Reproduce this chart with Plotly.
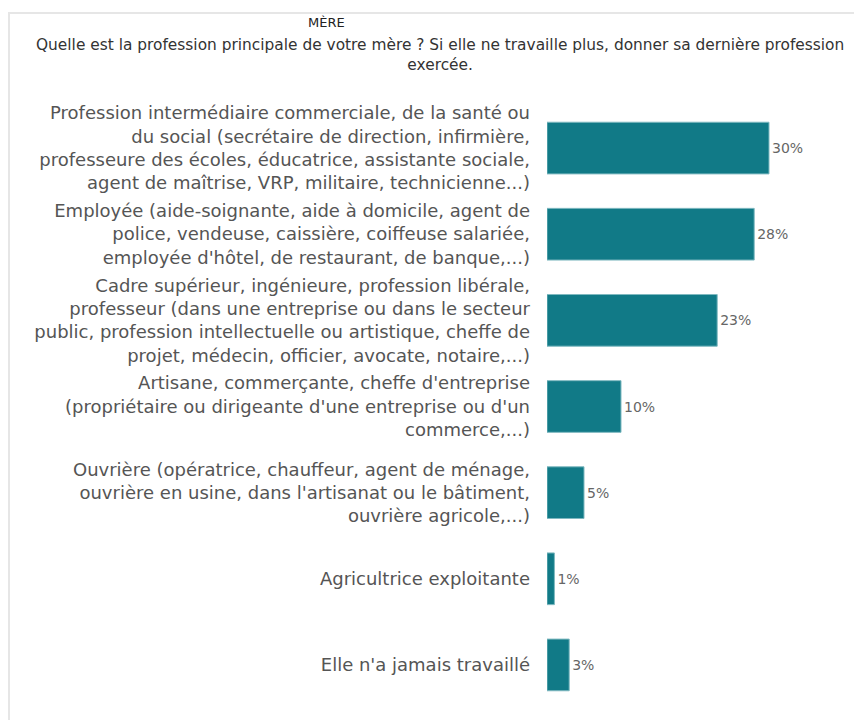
import plotly.graph_objects as go

categories = [
    "Profession intermédiaire commerciale, de la santé ou<br>du social (secrétaire de direction, infirmière,<br>professeure des écoles, éducatrice, assistante sociale,<br>agent de maîtrise, VRP, militaire, technicienne...)",
    "Employée (aide-soignante, aide à domicile, agent de<br>police, vendeuse, caissière, coiffeuse salariée,<br>employée d'hôtel, de restaurant, de banque,...)",
    "Cadre supérieur, ingénieure, profession libérale,<br>professeur (dans une entreprise ou dans le secteur<br>public, profession intellectuelle ou artistique, cheffe de<br>projet, médecin, officier, avocate, notaire,...)",
    "Artisane, commerçante, cheffe d'entreprise<br>(propriétaire ou dirigeante d'une entreprise ou d'un<br>commerce,...)",
    "Ouvrière (opératrice, chauffeur, agent de ménage,<br>ouvrière en usine, dans l'artisanat ou le bâtiment,<br>ouvrière agricole,...)",
    "Agricultrice exploitante",
    "Elle n'a jamais travaillé",
]
values = [30, 28, 23, 10, 5, 1, 3]
value_labels = [f"{v}%" for v in values]

OFF = 8  # page body margin
W, H = 862, 720
# plot area in page pixels: left 547, top 105, bottom 708
L = 547 - OFF
T = 105 - OFF
B = H - (708 - OFF)
R = 0
pw = W - L - R
ph = H - T - B

def px_x(x):  # page px -> paper
    return (x - OFF - L) / pw

def px_y(y):
    return (H - B - (y - OFF)) / ph

fig = go.Figure(go.Bar(
    x=values, y=categories, orientation="h",
    marker=dict(color="#117a87", line=dict(color="#7fb9c0", width=1)),
    width=0.6,
    text=value_labels, textposition="outside",
    textfont=dict(family="DejaVu Sans", size=14, color="#666666"),
    cliponaxis=False,
))

fig.update_layout(
    width=W, height=H,
    margin=dict(l=L, r=R, t=T, b=B),
    paper_bgcolor="white", plot_bgcolor="white",
    showlegend=False,
    xaxis=dict(range=[0, pw / 7.4], visible=False, showgrid=False, zeroline=False),
    yaxis=dict(autorange="reversed", showgrid=False, zeroline=False, showline=False,
               ticks="", ticklabelstandoff=16,
               tickfont=dict(family="DejaVu Sans", size=18, color="#555555")),
    shapes=[dict(type="rect", xref="paper", yref="paper",
                 x0=px_x(9), x1=px_x(900), y0=px_y(760), y1=px_y(13),
                 line=dict(color="#e6e6e6", width=2), fillcolor="rgba(0,0,0,0)", layer="below")],
    annotations=[
        dict(text="MÈRE", xref="paper", yref="paper", x=px_x(326), y=px_y(22),
             showarrow=False, font=dict(family="DejaVu Sans", size=13, color="#222222"),
             xanchor="center", yanchor="middle"),
        dict(text="Quelle est la profession principale de votre mère ? Si elle ne travaille plus, donner sa dernière profession<br>exercée.",
             xref="paper", yref="paper", x=px_x(440), y=px_y(55),
             showarrow=False, font=dict(family="DejaVu Sans", size=15.4, color="#333333"),
             xanchor="center", yanchor="middle", align="center"),
    ],
)

fig.write_html("out.html")
